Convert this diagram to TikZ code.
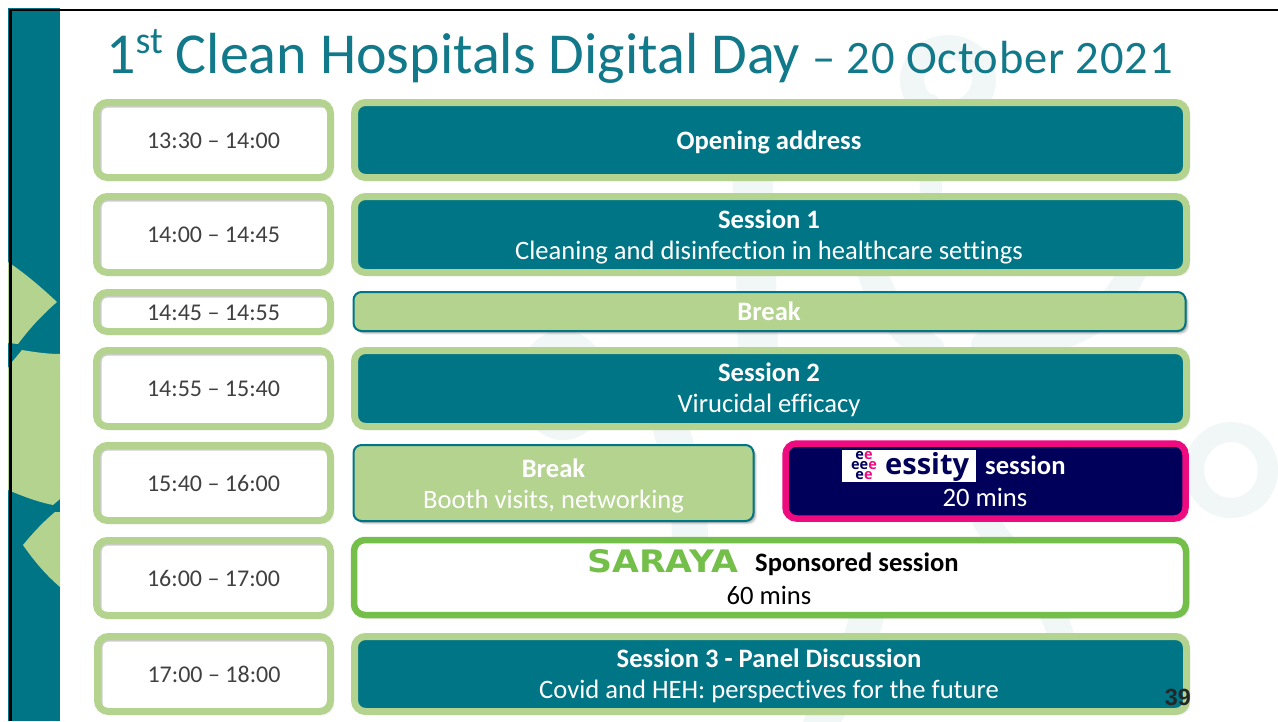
\documentclass[tikz,border=0pt]{standalone}
\usepackage{fontspec}
\usepackage{graphicx}
\setmainfont{Carlito}[RawFeature={-liga;-clig}]
\newfontfamily\arialf{Liberation Sans}
\newfontfamily\logof{Open Sans}
\newfontfamily\sarayaf{DejaVu Sans}
\usetikzlibrary{shadows}
\definecolor{teal1}{HTML}{007586}
\definecolor{lgreen}{HTML}{B3D38F}
\definecolor{pink1}{HTML}{EE0A7F}
\definecolor{navy1}{HTML}{00005A}
\definecolor{sgreen}{HTML}{73BF4A}
\definecolor{wm}{HTML}{F1F6F7}
\definecolor{tgray}{HTML}{404040}
\definecolor{titlec}{HTML}{12798A}
\newcommand{\fs}[1]{\fontsize{#1}{31}\selectfont}
\newcommand{\ttxt}[1]{\rule{0pt}{25.7pt}\strut #1}
\tikzset{
  softshadow/.style={
    general shadow={shadow xshift=3.5pt,shadow yshift=-3.5pt,fill=black,opacity=.07},
    general shadow={shadow xshift=2.5pt,shadow yshift=-2.5pt,fill=black,opacity=.12},
    general shadow={shadow xshift=1.5pt,shadow yshift=-1.5pt,fill=black,opacity=.16}},
  bar/.style={rectangle,rounded corners=11pt,line width=7pt,inner sep=0pt,align=center,softshadow},
  timebox/.style={bar,draw=lgreen,fill=white,minimum width=234pt,text=tgray,font=\fs{24},
    path picture={\draw[black,opacity=.2,line width=10pt,rounded corners=11pt]
      (path picture bounding box.south west) -- (path picture bounding box.north west) -- (path picture bounding box.north east);}},
  sessionbar/.style={bar,draw=lgreen,fill=teal1,minimum width=832pt,text=white,font=\fs{26.6}},
  breakbar/.style={rectangle,rounded corners=8pt,line width=2pt,draw=teal1,fill=lgreen,inner sep=0pt,align=center,text=white,font=\fs{26.6},softshadow},
  wmline/.style={draw=wm,line cap=round},
  greenshape/.style={fill=lgreen,draw=none},
  label/.style={inner sep=0pt,align=center,font=\fs{26.6}}
}
\begin{document}
\begin{tikzpicture}[x=1pt,y=-1pt]
\useasboundingbox (0,0) rectangle (1278,721);
\fill[white] (0,0) rectangle (1278,721);
% watermark
\draw[wm,line width=24pt] (948,80) ellipse (36 and 33);
\draw[wmline,line width=22pt] (930,105) -- (931,190);
\draw[wmline,line width=40pt] (752,170) .. controls (755,240) and (757,300) .. (758,360);
\draw[wmline,line width=30pt] (872,270) .. controls (880,300) and (900,330) .. (930,350);
\draw[wmline,line width=28pt] (1133,270) .. controls (1110,320) and (1070,345) .. (985,345);
\draw[wm,line width=22pt] (563,385) ellipse (34 and 44);
\draw[wm,line width=20pt] (1231,470) ellipse (37 and 38);
\draw[wmline,line width=36pt] (670,425) .. controls (680,460) and (690,500) .. (690,540);
\draw[wmline,line width=26pt] (985,520) .. controls (1010,560) and (1050,590) .. (1062,640);
\draw[wmline,line width=34pt] (868,610) .. controls (860,650) and (840,690) .. (820,725);
% left strip
\fill[teal1] (8,8) rectangle (60,721);
\fill[greenshape] (8,262) .. controls (26,274) and (42,288) .. (57,302) .. controls (42,315) and (30,328) .. (18,344) -- (8,343) -- cycle;
\fill[greenshape] (22,350) .. controls (34,352) and (47,354) .. (60,354) -- (60,499) -- (53,505) .. controls (38,502) and (22,496) .. (8,490) -- (8,368) -- (12,362) -- cycle;
\fill[greenshape] (60,512) -- (55,512) .. controls (43,522) and (32,534) .. (23,545) .. controls (34,561) and (46,575) .. (60,587) -- cycle;
\draw[black,line width=2.2pt] (1278,10) -- (10.5,10) -- (10.5,721);
% title
\node[anchor=base west,inner sep=0pt,text=titlec] (title) at (106,73) {\fontsize{58}{60}\selectfont 1\raisebox{20pt}{\fontsize{38}{38}\selectfont st} Clean Hospitals Digital Day\hspace{12pt}\fontsize{46.5}{50}\selectfont\addfontfeature{LetterSpace=1.7}– 20 October 2021};
% time boxes
\node[timebox,minimum height=75pt] (t1) at (213.5,140) {\ttxt{13:30 – 14:00}};
\node[timebox,minimum height=76pt] (t2) at (213.5,234.5) {\ttxt{14:00 – 14:45}};
\node[timebox,minimum height=39pt] (t3) at (213.5,312) {\ttxt{14:45 – 14:55}};
\node[timebox,minimum height=76pt] (t4) at (213.5,388.5) {\ttxt{14:55 – 15:40}};
\node[timebox,minimum height=75pt] (t5) at (213.5,483) {\ttxt{15:40 – 16:00}};
\node[timebox,minimum height=75pt] (t6) at (213.5,578) {\ttxt{16:00 – 17:00}};
\node[timebox,minimum height=75pt,minimum width=233pt] (t7) at (214,674) {\ttxt{17:00 – 18:00}};
% session bars
\node[sessionbar,minimum height=75pt] (s1) at (770.5,140) {};
\node[label,text=white] (s1t) at (769,143.5) {\strut{\bfseries Opening address}};
\node[sessionbar,minimum height=76pt] (s2) at (770.5,234.5) {};
\node[label,text=white] (s2t) at (769,237.5) {\strut{\bfseries Session 1}\\\strut Cleaning and disinfection in healthcare settings};
\node[breakbar,minimum width=832pt,minimum height=39pt] (b1) at (769.5,311.5) {};
\node[label,text=white] (b1t) at (769,314.5) {\strut{\bfseries Break}};
\node[sessionbar,minimum height=76pt] (s3) at (770.5,388.5) {};
\node[label,text=white] (s3t) at (769,391) {\strut{\bfseries Session 2}\\\strut Virucidal efficacy};
\node[breakbar,minimum width=400pt,minimum height=76pt] (b2) at (553.5,483) {};
\node[label,text=white] (b2t) at (553.5,486.5) {\strut{\bfseries Break}\\\strut Booth visits, networking};
% essity
\node[bar,draw=pink1,fill=navy1,minimum width=400pt,minimum height=75pt,line width=6.5pt] (es) at (985.5,481) {};
\node[rectangle,fill=white,minimum width=134pt,minimum height=32pt,inner sep=0pt] (eslogo) at (909,466) {};
\node[anchor=base west,inner sep=0pt,text=navy1,font=\logof\bfseries\fontsize{29}{29}\selectfont] (esname) at (885,474) {essity};
\node[inner sep=0pt,align=center,text=navy1,font=\logof\bfseries\fontsize{14.5}{9.8}\selectfont] (escluster) at (864,465.5) {e\textcolor{pink1}{e}\\ee\textcolor{pink1}{e}\\e\textcolor{pink1}{e}};
\node[label,text=white,anchor=west] (est) at (985,468) {\strut{\bfseries session}};
\node[label,text=white] (esm) at (985,500) {\strut 20 mins};
% saraya
\node[bar,draw=sgreen,fill=white,minimum width=832pt,minimum height=75pt,line width=6.5pt] (sa) at (770,577.5) {};
\node[inner sep=0pt,text=sgreen,anchor=base west] (salogo) at (587,572.5) {\sarayaf\bfseries\fontsize{31}{31}\selectfont\scalebox{1.12}[1]{SARAYA}};
\node[label,text=black,anchor=west] (sat) at (755,565) {\strut{\bfseries Sponsored session}};
\node[label,text=black] (sam) at (769,598) {\strut 60 mins};
% session 3
\node[sessionbar,minimum height=75pt] (s4) at (770.5,674) {};
\node[label,text=white] (s4t) at (769,676.5) {\strut{\bfseries Session 3 - Panel Discussion}\\\strut Covid and HEH: perspectives for the future};
% page number
\node[inner sep=0pt,anchor=base east,text=black!85] (pg) at (1191,705) {\arialf\bfseries\fontsize{23.4}{24}\selectfont 39};
\end{tikzpicture}
\end{document}
